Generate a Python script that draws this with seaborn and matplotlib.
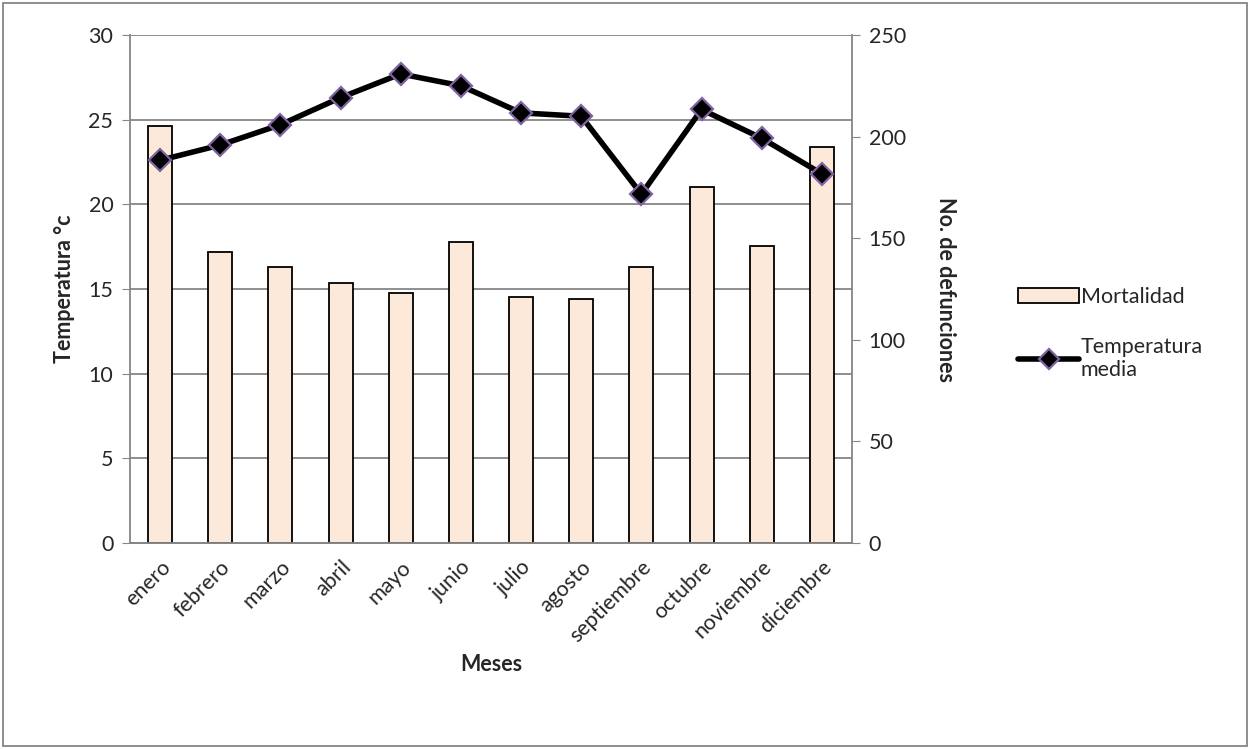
import numpy as np
import pandas as pd
import matplotlib
matplotlib.use("Agg")
import matplotlib.pyplot as plt
import seaborn as sns
from matplotlib.patches import Patch, Rectangle
from matplotlib.lines import Line2D

# data
meses = ["enero", "febrero", "marzo", "abril", "mayo", "junio",
         "julio", "agosto", "septiembre", "octubre", "noviembre", "diciembre"]
mortalidad = [205, 143, 136, 128, 123, 148, 121, 120, 136, 175, 146, 195]
temperatura = [22.6, 23.5, 24.7, 26.3, 27.7, 27.0, 25.4, 25.2, 20.6, 25.6, 23.9, 21.8]
temp_ticks = [0, 5, 10, 15, 20, 25, 30]
def_ticks = [0, 50, 100, 150, 200, 250]

df = pd.DataFrame({"mes": meses, "pos": np.arange(len(meses)),
                   "mortalidad": mortalidad, "temperatura": temperatura})

sns.set_style("white")
plt.rcParams["font.family"] = ["Lato", "DejaVu Sans"]
plt.rcParams["font.size"] = 15.5

gray = "#868686"
fig, ax = plt.subplots(figsize=(12.52, 7.49), dpi=100)
plt.subplots_adjust(left=0.1038, right=0.6805, top=0.9533, bottom=0.275)

# left axis: grid + ticks for temperature
ax.set_ylim(0, 30)
ax.set_yticks(temp_ticks)
ax.yaxis.grid(True, color=gray, linewidth=1.3)
ax.set_axisbelow(True)

# bars on right axis
ax2 = ax.twinx()
sns.barplot(data=df, x="mes", y="mortalidad", ax=ax2, width=0.4,
            color="#FDE9D9", edgecolor="black", linewidth=1.3, saturation=1)
ax2.set_ylim(0, 250)
ax2.set_yticks(def_ticks)
ax2.set_xlim(-0.5, len(meses) - 0.5)

# line on a third axes with the temperature scale, drawn on top
ax3 = ax.twinx()
sns.lineplot(data=df, x="pos", y="temperatura", ax=ax3, color="black",
             linewidth=4, marker="D", markersize=11, markerfacecolor="black",
             markeredgecolor="#7F62A0", markeredgewidth=1.6)
ax3.set_ylim(0, 30)
ax3.set_yticks([])
ax3.set_ylabel("")
ax3.set_xlabel("")
for s in ax3.spines.values():
    s.set_visible(False)

ax.set_xlim(-0.5, len(meses) - 0.5)
ax.set_xticks(np.arange(len(meses)))
ax.set_xticklabels(meses, rotation=45, ha="right", rotation_mode="anchor")
ax.set_xticks(np.arange(-0.5, len(meses), 1), minor=True)
ax.tick_params(axis="x", which="major", length=0, pad=10)
ax.tick_params(axis="x", which="minor", length=6, color=gray, direction="out")
ax.tick_params(axis="y", length=6, color=gray, direction="out", pad=6, left=True)
ax2.tick_params(axis="y", length=6, color=gray, direction="out", pad=6, right=True)
ax2.set_xlabel("")

for a in (ax, ax2):
    a.spines["top"].set_visible(False)
    for side in ("left", "right", "bottom"):
        a.spines[side].set_color(gray)
        a.spines[side].set_linewidth(1.3)
ax.spines["right"].set_visible(False)
ax2.spines["left"].set_visible(False)

ax.set_ylabel("Temperatura °c", fontweight="bold", labelpad=10)
ax2.set_ylabel("No. de defunciones", fontweight="bold", rotation=270, labelpad=36)
ax.set_xlabel("Meses", fontweight="bold", labelpad=6)

handles = [Patch(facecolor="#FDE9D9", edgecolor="black", linewidth=1.3),
           Line2D([], [], color="black", linewidth=4, marker="D", markersize=10,
                  markerfacecolor="black", markeredgecolor="#7F62A0", markeredgewidth=1.6)]
fig.legend(handles, ["Mortalidad", "Temperatura\nmedia"], loc="center left",
           bbox_to_anchor=(0.798, 0.555), frameon=False, handlelength=2.8,
           handletextpad=0.1, labelspacing=1.4)

fig.patches.append(Rectangle((0.002, 0.004), 0.994, 0.992, transform=fig.transFigure,
                             fill=False, edgecolor=gray, linewidth=1.3))

plt.savefig("out.png", dpi=100)
